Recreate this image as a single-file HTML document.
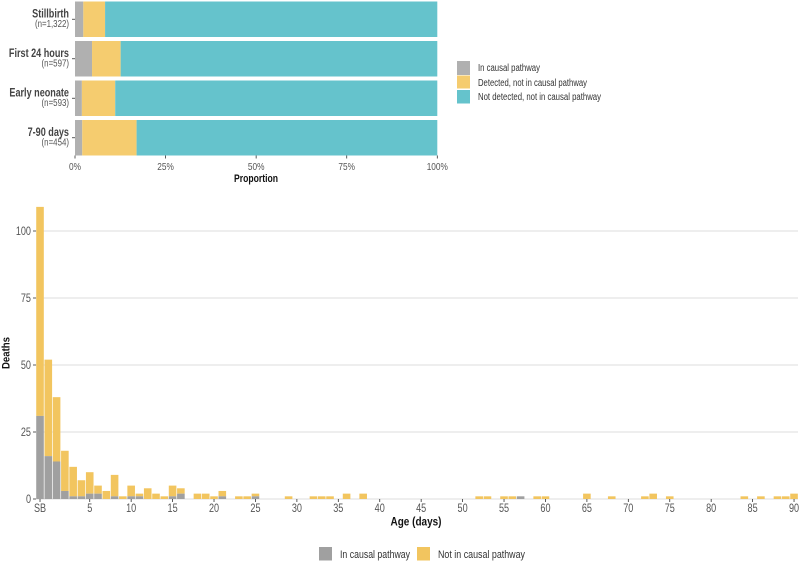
<!DOCTYPE html>
<html>
<head>
<meta charset="utf-8">
<style>
html,body{margin:0;padding:0;background:#fff;width:800px;height:562px;overflow:hidden}
svg{display:block}
text{font-family:"Liberation Sans",sans-serif}
</style>
</head>
<body>
<svg id="figure" width="800" height="562" viewBox="0 0 800 562" xmlns="http://www.w3.org/2000/svg">
  <rect width="800" height="562" fill="#fff"/>
  <g id="top"></g>
  <g id="bottom"></g>

  <text x="256" y="182" text-anchor="middle" font-size="11" font-weight="bold" fill="#111" textLength="44" lengthAdjust="spacingAndGlyphs">Proportion</text>

  <g>
    <rect x="457" y="61" width="13" height="14" fill="#b0b0b0"/>
    <rect x="457" y="75.5" width="13" height="13" fill="#f5cc6f"/>
    <rect x="457" y="90" width="13" height="13.5" fill="#65c3cc"/>
    <text x="478" y="71" font-size="10" fill="#333" textLength="62" lengthAdjust="spacingAndGlyphs">In causal pathway</text>
    <text x="478" y="86" font-size="10" fill="#333" textLength="109" lengthAdjust="spacingAndGlyphs">Detected, not in causal pathway</text>
    <text x="478" y="100" font-size="10" fill="#333" textLength="123" lengthAdjust="spacingAndGlyphs">Not detected, not in causal pathway</text>
  </g>

  <text transform="translate(9.5,353) rotate(-90)" text-anchor="middle" font-size="11" font-weight="bold" fill="#111" textLength="32" lengthAdjust="spacingAndGlyphs">Deaths</text>
  <text x="416" y="525.5" text-anchor="middle" font-size="11.5" font-weight="bold" fill="#111" textLength="51" lengthAdjust="spacingAndGlyphs">Age (days)</text>

  <g>
    <rect x="319" y="547" width="13" height="13.5" fill="#a0a0a0"/>
    <rect x="417" y="547" width="13" height="13.5" fill="#f2c55f"/>
    <text x="340" y="558" font-size="11" fill="#333" textLength="70" lengthAdjust="spacingAndGlyphs">In causal pathway</text>
    <text x="438" y="558" font-size="11" fill="#333" textLength="87" lengthAdjust="spacingAndGlyphs">Not in causal pathway</text>
  </g>
</svg>
<script>
// Top chart data
const groups = ["Stillbirth", "First 24 hours", "Early neonate", "7-90 days"];
const groupCounts = ["(n=1,322)", "(n=597)", "(n=593)", "(n=454)"];
const inPathway = [0.023, 0.047, 0.019, 0.020];
const detectedNotPathway = [0.060, 0.079, 0.092, 0.150];
const notDetected = [0.917, 0.874, 0.889, 0.830];
const proportionTicks = [0, 25, 50, 75, 100];

// Bottom chart data
const ages = [-1, 0, 1, 2, 3, 4, 5, 6, 7, 8, 9, 10, 11, 12, 13, 14, 15, 16, 18, 19, 20, 21, 23, 24, 25, 29, 32, 33, 34, 36, 38, 52, 53, 55, 56, 57, 59, 60, 65, 68, 72, 73, 75, 84, 86, 88, 89, 90];
const causalDeaths = [31, 16, 14, 3, 1, 1, 2, 2, 0, 1, 0, 1, 1, 0, 0, 0, 1, 2, 0, 0, 0, 1, 0, 0, 1, 0, 0, 0, 0, 0, 0, 0, 0, 0, 0, 1, 0, 0, 0, 0, 0, 0, 0, 0, 0, 0, 0, 0];
const otherDeaths = [78, 36, 24, 15, 11, 6, 8, 3, 3, 8, 1, 4, 1, 4, 2, 1, 4, 2, 2, 2, 1, 2, 1, 1, 1, 1, 1, 1, 1, 2, 2, 1, 1, 1, 1, 0, 1, 1, 2, 1, 1, 2, 1, 1, 1, 1, 1, 2];
const deathTicks = [0, 25, 50, 75, 100];
const ageTicks = [-1, 5, 10, 15, 20, 25, 30, 35, 40, 45, 50, 55, 60, 65, 70, 75, 80, 85, 90];

const NS = "http://www.w3.org/2000/svg";
const topG = document.getElementById("top");
const bottomG = document.getElementById("bottom");
const condense = 0.79;

function shape(tag, attrs, parent) {
  const el = document.createElementNS(NS, tag);
  for (const k in attrs) el.setAttribute(k, attrs[k]);
  parent.appendChild(el);
  return el;
}
// Text is condensed from its natural width to mimic the narrow face of the reference.
function label(str, x, y, anchor, size, weight, fill, parent) {
  const el = shape("text", {x: x, y: y, "text-anchor": anchor, "font-size": size, "font-weight": weight, fill: fill}, parent);
  el.textContent = str;
  el.setAttribute("textLength", el.getComputedTextLength() * condense);
  el.setAttribute("lengthAdjust", "spacingAndGlyphs");
  return el;
}

// Axis functions
const xProp = p => 75 + p * 362.3;
const rowTop = i => 1.5 + i * 39.5;
const rowH = 35.5;
const xAge = d => 48.3 + d * 8.286;
const yDeaths = v => 499 - v * 2.68;

// Top chart bars
groups.forEach((g, i) => {
  const segs = [[inPathway[i], "#b0b0b0"], [detectedNotPathway[i], "#f5cc6f"], [notDetected[i], "#65c3cc"]];
  let acc = 0;
  segs.forEach((s, j) => {
    const r = shape("rect", {x: xProp(acc), y: rowTop(i), width: xProp(acc + s[0]) - xProp(acc), height: rowH, fill: s[1]}, topG);
    
    
    acc += s[0];
  });
  const cy = rowTop(i) + rowH / 2;
  const t = shape("line", {x1: 72, x2: 75, y1: cy, y2: cy, stroke: "#333", "stroke-width": 0.8}, topG);
  
  
  const a = label(g, 69, cy - 2, "end", 11.5, "bold", "#444", topG);
  
  
  const b = label(groupCounts[i], 69, cy + 7.7, "end", 10, "normal", "#555", topG);
  
  
});
proportionTicks.forEach(v => {
  const x = xProp(v / 100);
  const t = shape("line", {x1: x, x2: x, y1: 155.5, y2: 158.5, stroke: "#333", "stroke-width": 0.8}, topG);
  
  
  const a = label(v + "%", x, 170, "middle", 10.5, "normal", "#555", topG);
  
  
});

// Bottom chart grid
deathTicks.forEach(v => {
  const y = yDeaths(v);
  const g = shape("line", {x1: 36, x2: 798, y1: y, y2: y, stroke: "#dedede", "stroke-width": 1}, bottomG);
  
  
  const t = shape("line", {x1: 33, x2: 36, y1: y, y2: y, stroke: "#333", "stroke-width": 0.8}, bottomG);
  
  
  const a = label(String(v), 31, y + 4.2, "end", 11.5, "normal", "#555", bottomG);
  
  
});

// Bottom chart bars
const barW = 7.6;
ages.forEach((d, i) => {
  const x = xAge(d) - barW / 2;
  const c = causalDeaths[i];
  const o = otherDeaths[i];
  if (o > 0) {
    const r = shape("rect", {x: x, y: yDeaths(c + o), width: barW, height: yDeaths(c) - yDeaths(c + o), fill: "#f2c55f"}, bottomG);
    
    
  }
  if (c > 0) {
    const r = shape("rect", {x: x, y: yDeaths(c), width: barW, height: yDeaths(0) - yDeaths(c), fill: "#a0a0a0"}, bottomG);
    
    
  }
});

// Bottom chart x ticks
ageTicks.forEach(d => {
  const x = xAge(d);
  const t = shape("line", {x1: x, x2: x, y1: 499, y2: 502, stroke: "#333", "stroke-width": 0.8}, bottomG);
  
  
  const a = label(d < 0 ? "SB" : String(d), x, 512, "middle", 11.5, "normal", "#555", bottomG);
  
  
});
</script>
</body>
</html>
